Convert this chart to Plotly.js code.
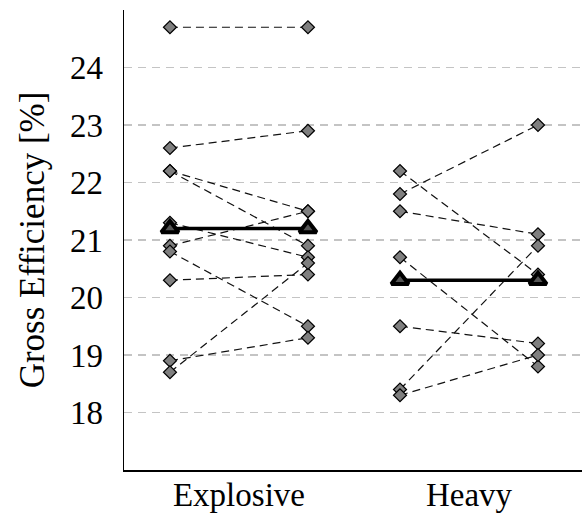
<!DOCTYPE html>
<html>
<head>
<meta charset="utf-8">
<script src="https://cdn.plot.ly/plotly-3.0.1.min.js"></script>
<style>html,body{margin:0;padding:0;background:#fff;}#chart{width:582px;height:516px;}</style>
</head>
<body>
<div id="chart"></div>
<script>
// Data (pre -> post pairs, same index = same subject)
const categories = ["Explosive", "Heavy"];
const explosivePre  = [24.7, 22.6, 22.2, 22.2, 21.3, 20.9, 20.8, 20.3, 18.9, 18.7];
const explosivePost = [24.7, 22.9, 21.5, 20.9, 20.7, 21.5, 19.5, 20.4, 19.3, 20.6];
const heavyPre  = [22.2, 21.8, 21.5, 20.7, 19.5, 18.4, 18.3];
const heavyPost = [20.4, 23.0, 21.1, 18.8, 19.2, 20.9, 19.0];
const explosiveMean = [21.2, 21.2];
const heavyMean = [20.3, 20.3];
const yTicks = [18, 19, 20, 21, 22, 23, 24];

// layout positions (x axis units): each group has a "pre" and "post" column
const groupPos = [[0, 1], [1.667, 2.667]];
const groups = [
  {pre: explosivePre, post: explosivePost, mean: explosiveMean},
  {pre: heavyPre, post: heavyPost, mean: heavyMean}
];

const traces = [];
groups.forEach((g, gi) => {
  const xs = [], ys = [];
  g.pre.forEach((v, i) => {
    xs.push(groupPos[gi][0], groupPos[gi][1], null);
    ys.push(v, g.post[i], null);
  });
  traces.push({x: xs, y: ys, type: 'scatter', mode: 'lines', hoverinfo: 'skip',
    line: {color: '#111', width: 1.2, dash: '8px,5px'}, connectgaps: false, showlegend: false});
});
groups.forEach((g, gi) => {
  const xs = [], ys = [];
  g.pre.forEach((v) => { xs.push(groupPos[gi][0]); ys.push(v); });
  g.post.forEach((v) => { xs.push(groupPos[gi][1]); ys.push(v); });
  traces.push({x: xs, y: ys, type: 'scatter', mode: 'markers', showlegend: false,
    marker: {symbol: 'diamond', size: 10, color: '#7f7f7f', line: {color: '#000', width: 1.2}}});
});
groups.forEach((g, gi) => {
  traces.push({x: groupPos[gi], y: g.mean, type: 'scatter', mode: 'lines+markers', showlegend: false,
    line: {color: '#000', width: 3.5},
    marker: {symbol: 'triangle-up', size: 15, color: '#555', line: {color: '#000', width: 4}}});
});

const FONT = 'Liberation Serif';
const layout = {
  width: 582, height: 516,
  margin: {l: 124, r: 0, t: 10, b: 46},
  paper_bgcolor: '#fff', plot_bgcolor: '#fff',
  font: {family: FONT, color: '#000', size: 34},
  xaxis: {
    range: [-0.333, 2.986], showgrid: false, zeroline: false,
    showline: true, linecolor: '#000', linewidth: 1.5,
    tickmode: 'array',
    tickvals: [(groupPos[0][0] + groupPos[0][1]) / 2, (groupPos[1][0] + groupPos[1][1]) / 2],
    ticktext: categories, ticks: '', ticklabelstandoff: -5,
    tickfont: {family: FONT, size: 33, color: '#000'}
  },
  yaxis: {
    range: [17, 25], zeroline: false,
    showline: true, linecolor: '#000', linewidth: 1.5,
    tickmode: 'array', tickvals: yTicks, ticktext: yTicks.map(String),
    ticks: '', ticklabelstandoff: 13,
    showgrid: true, gridcolor: '#c4c4c4', gridwidth: 1.3, griddash: '8px,6px',
    tickfont: {family: FONT, size: 33, color: '#000'},
    title: {text: 'Gross Efficiency [%]', font: {family: FONT, size: 35, color: '#000'}, standoff: 14}
  }
};

Plotly.newPlot('chart', traces, layout, {displayModeBar: false, staticPlot: true});
</script>
</body>
</html>
